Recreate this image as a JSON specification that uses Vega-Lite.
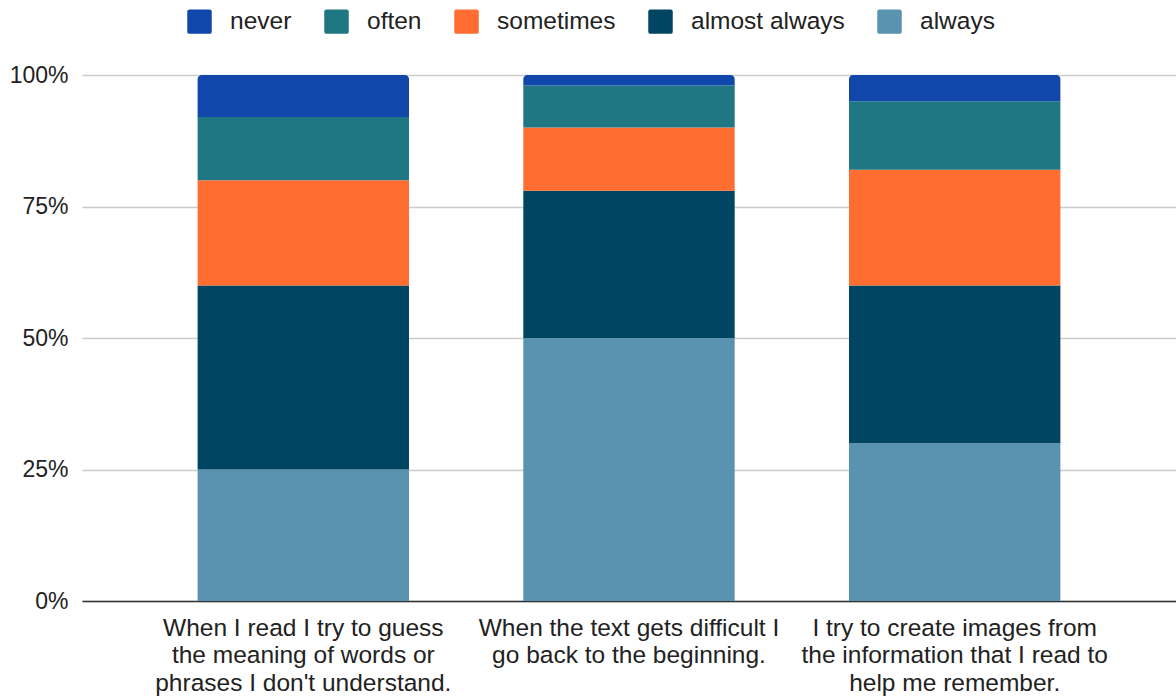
{
  "$schema": "https://vega.github.io/schema/vega-lite/v6.json",
  "width": 1094,
  "height": 526,
  "autosize": {"type": "none"},
  "padding": {"left": 82, "top": 75, "right": 0, "bottom": 99},
  "background": "white",
  "config": {
    "view": {"stroke": null},
    "font": "Liberation Sans"
  },
  "data": {
    "values": [
      {"statement": "When I read I try to guess\nthe meaning of words or\nphrases I don't understand.", "response": "always", "share": 0.25},
      {"statement": "When I read I try to guess\nthe meaning of words or\nphrases I don't understand.", "response": "almost always", "share": 0.35},
      {"statement": "When I read I try to guess\nthe meaning of words or\nphrases I don't understand.", "response": "sometimes", "share": 0.20},
      {"statement": "When I read I try to guess\nthe meaning of words or\nphrases I don't understand.", "response": "often", "share": 0.12},
      {"statement": "When I read I try to guess\nthe meaning of words or\nphrases I don't understand.", "response": "never", "share": 0.08},
      {"statement": "When the text gets difficult I\ngo back to the beginning.", "response": "always", "share": 0.50},
      {"statement": "When the text gets difficult I\ngo back to the beginning.", "response": "almost always", "share": 0.28},
      {"statement": "When the text gets difficult I\ngo back to the beginning.", "response": "sometimes", "share": 0.12},
      {"statement": "When the text gets difficult I\ngo back to the beginning.", "response": "often", "share": 0.08},
      {"statement": "When the text gets difficult I\ngo back to the beginning.", "response": "never", "share": 0.02},
      {"statement": "I try to create images from\nthe information that I read to\nhelp me remember.", "response": "always", "share": 0.30},
      {"statement": "I try to create images from\nthe information that I read to\nhelp me remember.", "response": "almost always", "share": 0.30},
      {"statement": "I try to create images from\nthe information that I read to\nhelp me remember.", "response": "sometimes", "share": 0.22},
      {"statement": "I try to create images from\nthe information that I read to\nhelp me remember.", "response": "often", "share": 0.13},
      {"statement": "I try to create images from\nthe information that I read to\nhelp me remember.", "response": "never", "share": 0.05}
    ]
  },
  "transform": [
    {"calculate": "indexof(['always', 'almost always', 'sometimes', 'often', 'never'], datum.response)", "as": "stackRank"},
    {"stack": "share", "groupby": ["statement"], "sort": [{"field": "stackRank", "order": "ascending"}], "as": ["shareStart", "shareEnd"]}
  ],
  "encoding": {
    "x": {
      "field": "statement",
      "type": "nominal",
      "sort": null,
      "scale": {"paddingInner": 0.351, "paddingOuter": 0.355},
      "axis": {
        "title": null,
        "labelAngle": 0,
        "labelExpr": "split(datum.label, '\\n')",
        "labelFontSize": 24.5,
        "labelLineHeight": 27.5,
        "labelColor": "#222222",
        "labelPadding": 15,
        "labelLimit": 400,
        "ticks": false,
        "domainColor": "#333333",
        "domainWidth": 1.5
      }
    },
    "y": {
      "field": "shareStart",
      "type": "quantitative",
      "scale": {"domain": [0, 1], "nice": false},
      "axis": {
        "title": null,
        "format": ".0%",
        "values": [0, 0.25, 0.5, 0.75, 1],
        "labelFontSize": 23,
        "labelColor": "#222222",
        "labelPadding": 14,
        "ticks": false,
        "domain": false,
        "gridColor": "#cccccc",
        "gridWidth": 1.5
      }
    },
    "y2": {"field": "shareEnd"},
    "color": {
      "field": "response",
      "type": "nominal",
      "scale": {
        "domain": ["never", "often", "sometimes", "almost always", "always"],
        "range": ["#1146aa", "#1f7784", "#ff6d31", "#004561", "#5a93af"]
      },
      "legend": {
        "title": null,
        "orient": "none",
        "legendX": 105,
        "legendY": -66,
        "direction": "horizontal",
        "symbolType": "M-0.82,-1H0.82Q1,-1 1,-0.82V0.82Q1,1 0.82,1H-0.82Q-1,1 -1,0.82V-0.82Q-1,-1 -0.82,-1Z",
        "symbolSize": 600,
        "symbolStrokeWidth": 0,
        "labelFontSize": 24.5,
        "labelColor": "#222222",
        "labelOffset": 18,
        "columnPadding": 32
      }
    }
  },
  "layer": [
    {
      "transform": [{"filter": "datum.response != 'never'"}],
      "mark": {"type": "bar"}
    },
    {
      "transform": [{"filter": "datum.response == 'never'"}],
      "mark": {"type": "bar", "cornerRadiusTopLeft": 4, "cornerRadiusTopRight": 4}
    }
  ]
}
